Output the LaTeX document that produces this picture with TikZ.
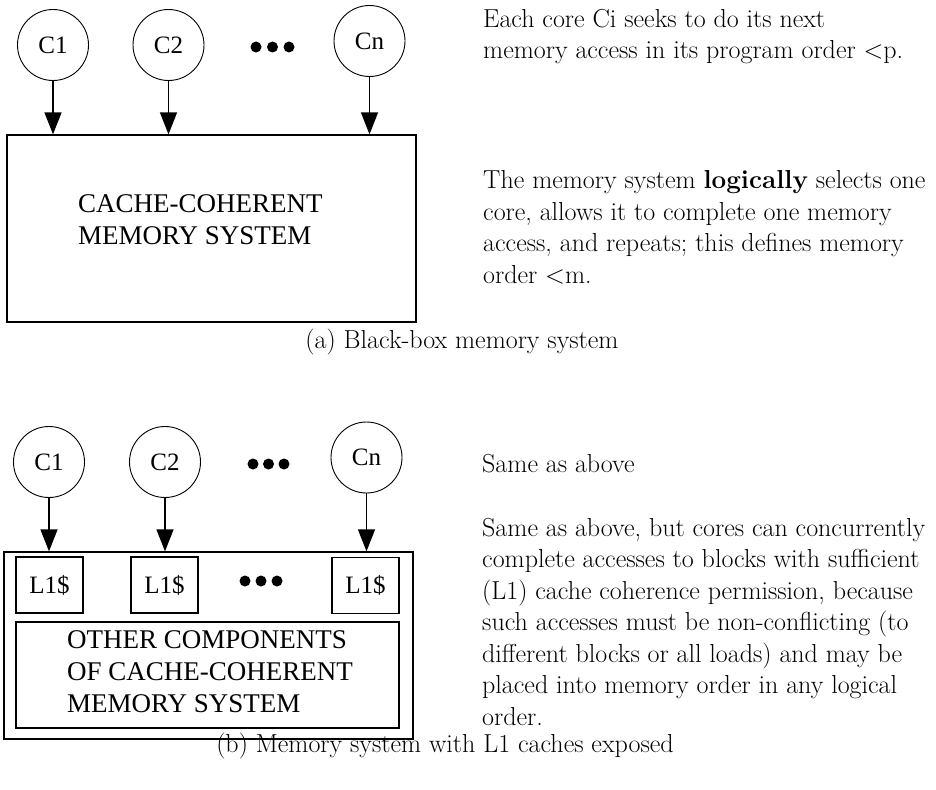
\documentclass[tikz,border=0pt]{standalone}
\usepackage{fontspec}
\newfontfamily\diagfont{Liberation Serif}
\usetikzlibrary{arrows.meta}
\usetikzlibrary{calc, positioning}

\begin{document}
\begin{tikzpicture}[x=1pt, y=-1pt,
  core/.style={draw, line width=0.9pt, circle, minimum size=71pt, inner sep=0pt, font=\diagfont\fontsize{25}{28}\selectfont},
  cachebox/.style={draw, line width=1.3pt, minimum width=67pt, minimum height=56pt, inner sep=0pt, font=\diagfont\fontsize{25}{28}\selectfont},
  membox/.style={draw, line width=1.3pt, inner sep=0pt},
  feed/.style={line width=1.4pt, -{Triangle[length=22pt, width=17pt]}},
  boxtext/.style={anchor=base west, align=left, inner sep=0pt, font=\diagfont\fontsize{27}{32}\selectfont},
  blurb/.style={anchor=base west, align=left, inner sep=0pt, font=\fontsize{26}{31.5}\selectfont},
  caption/.style={anchor=base, inner sep=0pt, font=\fontsize{26}{31.5}\selectfont}
]

  \useasboundingbox (0,0) rectangle (936,789);

  % (a) black box
  \node[core] (c1-a) at (53,45) {C1};
  \node[core] (c2-a) at (168.5,45) {C2};
  \node[core] (cn-a) at (369.5,41) {Cn};
  \foreach \x in {256,272.5,289}
    \fill (\x,47) circle[radius=5.5pt];

  \node[membox, minimum width=409pt, minimum height=187pt] (mem-a) at (211.5,228.5) {};
  % base anchor sits on the last line
  \node[boxtext] (mem-a-text) at (78,244) {CACHE-COHERENT\\MEMORY SYSTEM};

  \draw[feed] (c1-a) to (c1-a |- mem-a.north);
  \draw[feed] (c2-a) to (c2-a |- mem-a.north);
  \draw[feed] (cn-a) to (cn-a |- mem-a.north);

  \node[blurb] (note-p) at (483,59)
  {Each core Ci seeks to do its next\\memory access in its program order <p.};
  \node[blurb] (note-m) at (483,283)
  {The memory system \textbf{logically} selects one\\core, allows it to complete one memory\\access, and repeats; this defines memory\\order <m.};

  \node[caption] (cap-a) at (462,348) {(a) Black-box memory system};

  % (b) L1 caches exposed
  \node[core] (c1-b) at (49,462) {C1};
  \node[core] (c2-b) at (165,462) {C2};
  \node[core] (cn-b) at (366.5,457.5) {Cn};
  \foreach \x in {253,268.5,284}
    \fill (\x,464) circle[radius=5.5pt];

  \node[membox, minimum width=409pt, minimum height=187pt] (mem-b) at (208.5,645.5) {};
  \node[cachebox] (l1-1) at (49.5,585) {L1\$};
  \node[cachebox] (l1-2) at (164.5,585) {L1\$};
  \node[cachebox] (l1-n) at (365.5,585.5) {L1\$};
  \foreach \x in {245,261,277}
    \fill (\x,581) circle[radius=5.5pt];

  \node[membox, minimum width=383pt, minimum height=106pt] (other) at (207.5,675) {};
  \node[boxtext] (other-text) at (67,712) {OTHER COMPONENTS\\OF CACHE-COHERENT\\MEMORY SYSTEM};

  \draw[feed] (c1-b) to (c1-b |- mem-b.north);
  \draw[feed] (c2-b) to (c2-b |- mem-b.north);
  \draw[feed] (cn-b) to (cn-b |- mem-b.north);

  \node[blurb] (note-same) at (482,472) {Same as above};
  \node[blurb] (note-l1) at (482,725)
  {Same as above, but cores can concurrently\\complete accesses to blocks with sufficient\\(L1) cache coherence permission, because\\such accesses must be non-conflicting (to\\different blocks or all loads) and may be\\placed into memory order in any logical\\order.};

  \node[caption] (cap-b) at (445,752) {(b) Memory system with L1 caches exposed};

\end{tikzpicture}
\end{document}
